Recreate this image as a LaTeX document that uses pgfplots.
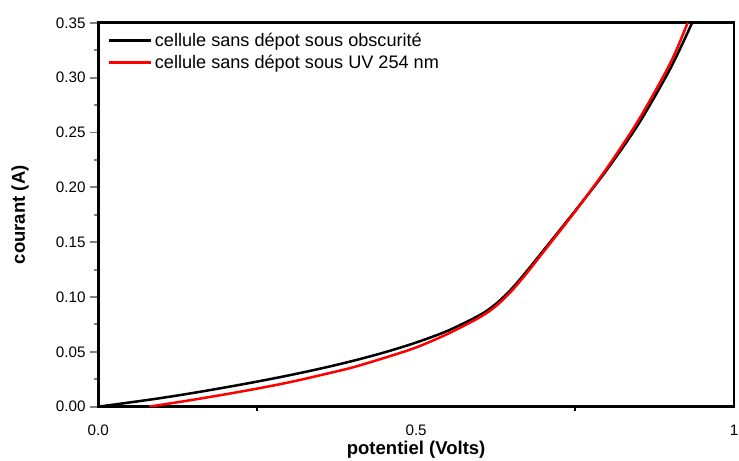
\documentclass[border=0pt]{standalone}
\usepackage{pgfplots}
\pgfplotsset{compat=1.18}
\usepackage{fontspec}
\setmainfont{Liberation Sans}
\begin{document}
\begin{tikzpicture}
\begin{axis}[
  scale only axis,
  width=480.75pt, height=290.25pt,
  xmin=0, xmax=1, ymin=0, ymax=0.35,
  axis line style={line width=2pt},
  xtick={0,0.5,1}, xticklabels={0.0,0.5,1},
  minor xtick={0.25,0.75},
  ytick={0,0.05,...,0.351},
  minor ytick={0.025,0.075,...,0.33},
  yticklabel style={/pgf/number format/.cd,fixed,fixed zerofill,precision=2},
  /pgf/number format/assume math mode=true,
  tick label style={font=\fontsize{11.5pt}{13pt}\selectfont},
  xtick pos=bottom, ytick pos=left,
  tick align=outside,
  x tick style={draw=none},
  minor x tick style={draw=black, line width=1.5pt},
  major tick length=6pt, minor tick length=3pt,
  y tick style={line width=1.5pt},
  xticklabel style={yshift=-4pt},
  xlabel={\textbf{potentiel (Volts)}},
  ylabel={\textbf{courant (A)}},
  label style={font=\fontsize{14pt}{16pt}\selectfont},
  xlabel style={at={(axis description cs:0.5,-0.113)}, anchor=center},
  ylabel style={at={(axis description cs:-0.1227,0.5)}, anchor=center},
  legend style={at={(axis description cs:0.012,0.985)}, anchor=north west,
    draw=none, fill=none, font=\fontsize{13.7pt}{15pt}\selectfont,
    row sep=1pt, inner sep=1pt},
  legend cell align=left,
  legend image code/.code={\draw[#1] (0pt,0pt) -- (32pt,0pt);},
]
\addplot[black, line width=1.9pt, smooth] coordinates {
(0,0) (0.05,0.0039) (0.1,0.008) (0.15,0.0126) (0.2,0.0176) (0.25,0.0229)
(0.3,0.0286) (0.35,0.0348) (0.4,0.0417) (0.45,0.0495) (0.5,0.0585)
(0.55,0.0693) (0.6,0.0835) (0.625,0.0935) (0.65,0.1073) (0.675,0.1243)
(0.7,0.1423) (0.75,0.1785) (0.8,0.2160) (0.85,0.2580) (0.9,0.3085)
(0.934,0.35)};
\addlegendentry{cellule sans dépot sous obscurité}
\addplot[red, line width=1.9pt, smooth] coordinates {
(0.08,0) (0.1,0.0018) (0.15,0.0064) (0.2,0.0113) (0.25,0.0165)
(0.3,0.0222) (0.35,0.0288) (0.4,0.0358) (0.45,0.0445) (0.5,0.0540)
(0.55,0.0665) (0.6,0.0815) (0.625,0.0915) (0.65,0.1055) (0.675,0.1225)
(0.7,0.1410) (0.75,0.1780) (0.8,0.2175) (0.85,0.2615) (0.9,0.3135)
(0.927,0.35)};
\addlegendentry{cellule sans dépot sous UV 254 nm}
\end{axis}
\pgfresetboundingbox
\path[use as bounding box] (-74.25pt,-40.5pt) rectangle (484.5pt,307.5pt);
\end{tikzpicture}
\end{document}
